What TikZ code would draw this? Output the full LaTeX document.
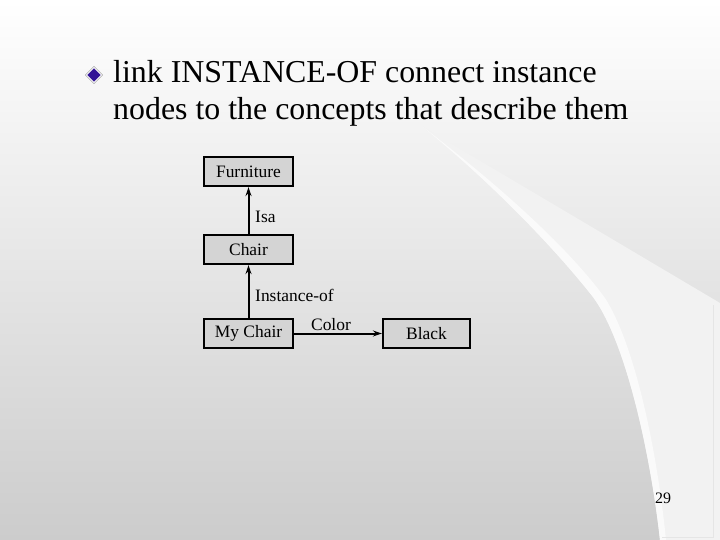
\documentclass[tikz,border=0pt]{standalone}
\usepackage{fontspec}
\setmainfont{Liberation Serif}
\usetikzlibrary{arrows.meta,shapes.geometric}
\definecolor{boxfill}{RGB}{212,212,212}
\definecolor{bulletblue}{RGB}{50,20,150}
\tikzset{
  conceptbox/.style={draw=black, line width=2.2bp, fill=boxfill, minimum width=89bp, minimum height=29bp, inner sep=0pt, font=\fontsize{17.5}{20}\selectfont},
  linkarrow/.style={line width=2bp, -{Stealth[length=9bp,width=6bp]}},
  linklabel/.style={font=\fontsize{17.5}{20}\selectfont, inner sep=0pt},
  titletext/.style={anchor=base west, inner sep=0pt, font=\fontsize{32}{37}\selectfont}
}
\begin{document}
\begin{tikzpicture}[x=1bp,y=-1bp]
\useasboundingbox (0,0) rectangle (720,540);
% background
\shade[top color=white, bottom color=black!20] (0,0) rectangle (720,540);
% light swoosh region
\fill[black!5] (423,127) -- (720,303) -- (720,540) -- (660,540)
  .. controls (650,450) and (625,340) .. (593,297)
  .. controls (560,255) and (500,190) .. (423,127) -- cycle;
\fill[black!2] (423,127) .. controls (500,190) and (560,255) .. (593,297)
  .. controls (625,340) and (650,450) .. (660,540) -- (666,540)
  .. controls (657,450) and (635,345) .. (605,298)
  .. controls (570,250) and (505,190) .. (423,127) -- cycle;
\draw[black!10, line width=0.8bp] (713,305) -- (713,537) -- (662,537);
% bullet
\node[diamond, draw=white, line width=1.2bp, fill=bulletblue, minimum width=16bp, minimum height=16bp, inner sep=0pt] (bullet) at (94,75) {};
\draw[black!45, line width=0.4bp] (bullet.north) -- (bullet.east) -- (bullet.south) -- (bullet.west) -- cycle;
% title
\node[titletext] (title1) at (113,83) {link INSTANCE-OF connect instance};
\node[titletext] (title2) at (113,120) {nodes to the concepts that describe them};
% nodes
\node[conceptbox] (furniture) at (248.5,171.5) {Furniture};
\node[conceptbox] (chair) at (248.5,249.5) {Chair};
\node[conceptbox] (mychair) at (248.5,333.5) {My Chair};
\node[conceptbox, minimum width=87bp] (black) at (426.5,333.5) {Black};
% connectors
\draw[linkarrow] (chair.north) -- (furniture.south);
\draw[linkarrow] (mychair.north) -- (chair.south);
\draw[linkarrow] (mychair.east) -- (black.west);
% labels
\node[linklabel, anchor=west] (isa) at (255,217) {Isa};
\node[linklabel, anchor=west] (instof) at (255,295) {Instance-of};
\node[linklabel] (color) at (331,325) {Color};
% page number
\node[inner sep=0pt, font=\fontsize{16}{18}\selectfont] (pagenum) at (663,498) {29};
\end{tikzpicture}
\end{document}
